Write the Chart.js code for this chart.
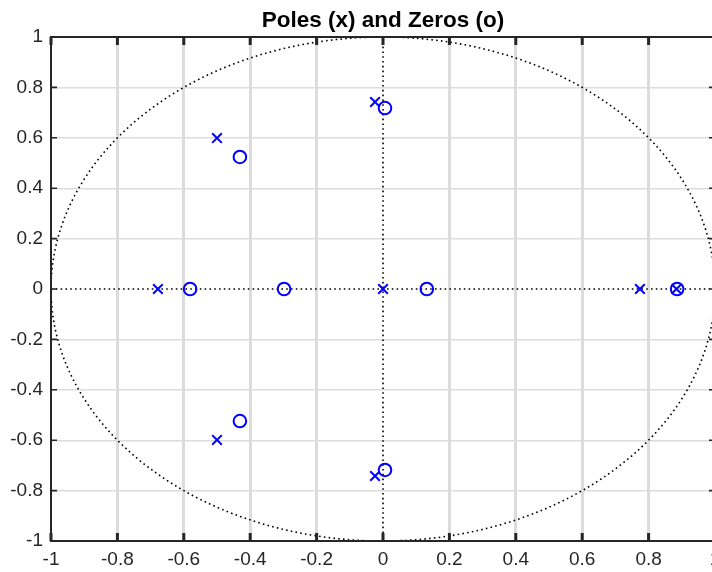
<!DOCTYPE html>
<html>
<head>
<meta charset="utf-8">
<script src="https://cdn.jsdelivr.net/npm/chart.js@4.4.1/dist/chart.umd.min.js"></script>
<style>
  html, body { margin: 0; padding: 0; overflow: hidden; background: #fff; }
  #wrap { width: 735px; height: 572px; }
</style>
</head>
<body>
<div id="wrap"><canvas id="pz" width="735" height="572"></canvas></div>
<script>
// pole / zero locations (real, imaginary)
const poleRe = [-0.678, -0.5, -0.5, -0.024, -0.024, 0, 0.774, 0.884];
const poleIm = [0, 0.599, -0.599, 0.742, -0.742, 0, 0, 0];
const zeroRe = [-0.581, -0.298, 0.132, 0.886, -0.431, -0.431, 0.006, 0.006];
const zeroIm = [0, 0, 0, 0, 0.524, -0.524, 0.718, -0.718];
const tickValues = [-1, -0.8, -0.6, -0.4, -0.2, 0, 0.2, 0.4, 0.6, 0.8, 1];
const titleText = 'Poles (x) and Zeros (o)';

const axisColor = '#262626';
const markBlue = '#0000ff';
const fontFamily = 'Arial, "Liberation Sans", sans-serif';

const toPoints = (re, im) => re.map((x, i) => ({ x: x, y: im[i] }));

// unit circle, real/imag axes, box, inward ticks and a title centred over the axes
const zplaneDecor = {
    id: 'zplaneDecor',
    beforeDatasetsDraw(chart) {
        const { ctx, chartArea: a, scales: { x, y } } = chart;
        const cx = x.getPixelForValue(0), cy = y.getPixelForValue(0);
        const rx = x.getPixelForValue(1) - cx, ry = cy - y.getPixelForValue(1);
        ctx.save();
        ctx.strokeStyle = '#000';
        ctx.lineWidth = 1.6;
        ctx.setLineDash([1.6, 3.2]);
        ctx.beginPath();
        ctx.ellipse(cx, cy, rx, ry, 0, 0, Math.PI * 2);
        ctx.stroke();
        ctx.beginPath();
        ctx.moveTo(a.left, cy); ctx.lineTo(a.right, cy);
        ctx.moveTo(cx, a.top); ctx.lineTo(cx, a.bottom);
        ctx.stroke();
        ctx.restore();
    },
    afterDatasetsDraw(chart) {
        const { ctx, chartArea: a, scales: { x, y } } = chart;
        ctx.save();
        ctx.strokeStyle = axisColor;
        ctx.lineWidth = 3;
        tickValues.forEach(v => {
            const px = x.getPixelForValue(v);
            ctx.beginPath();
            ctx.moveTo(px, a.top); ctx.lineTo(px, a.top + 8);
            ctx.moveTo(px, a.bottom); ctx.lineTo(px, a.bottom - 8);
            ctx.stroke();
        });
        ctx.lineWidth = 1.6;
        tickValues.forEach(v => {
            const py = y.getPixelForValue(v);
            ctx.beginPath();
            ctx.moveTo(a.left, py); ctx.lineTo(a.left + 6, py);
            ctx.moveTo(a.right, py); ctx.lineTo(a.right - 6, py);
            ctx.stroke();
        });
        ctx.lineWidth = 2;
        ctx.strokeRect(a.left, a.top, a.right - a.left, a.bottom - a.top);

        ctx.fillStyle = '#000';
        ctx.font = 'bold 22.5px ' + fontFamily;
        ctx.textAlign = 'center';
        ctx.textBaseline = 'alphabetic';
        ctx.fillText(titleText, (a.left + a.right) / 2, 27);
        ctx.restore();
    }
};

const gridColor = ctx => {
    const v = ctx.tick ? ctx.tick.value : null;
    if (v === null || Math.abs(v) < 1e-9 || Math.abs(Math.abs(v) - 1) < 1e-9) return 'rgba(0,0,0,0)';
    return '#dcdcdc';
};

new Chart(document.getElementById('pz').getContext('2d'), {
    type: 'scatter',
    data: {
        datasets: [
            {
                label: 'Zeros',
                data: toPoints(zeroRe, zeroIm),
                pointStyle: 'circle',
                pointRadius: 6.3,
                pointBorderWidth: 2,
                borderColor: markBlue,
                backgroundColor: 'rgba(0,0,0,0)'
            },
            {
                label: 'Poles',
                data: toPoints(poleRe, poleIm),
                pointStyle: 'crossRot',
                pointRadius: 6.8,
                pointBorderWidth: 2,
                borderColor: markBlue,
                backgroundColor: markBlue
            }
        ]
    },
    options: {
        responsive: false,
        animation: false,
        layout: { padding: { left: 0, right: 20, top: 37, bottom: 0 } },
        plugins: {
            legend: { display: false },
            tooltip: { enabled: false },
            title: { display: false }
        },
        scales: {
            x: {
                type: 'linear',
                min: -1,
                max: 1,
                afterBuildTicks: s => { s.ticks = tickValues.map(v => ({ value: v })); },
                afterFit: s => { s.height = 31; },
                ticks: {
                    color: axisColor,
                    padding: 7.5,
                    maxRotation: 0,
                    font: { family: fontFamily, size: 19 },
                    callback: v => String(Math.round(v * 10) / 10)
                },
                grid: { color: gridColor, lineWidth: 3, drawTicks: false },
                border: { display: false }
            },
            y: {
                type: 'linear',
                min: -1,
                max: 1,
                afterBuildTicks: s => { s.ticks = tickValues.map(v => ({ value: v })); },
                afterFit: s => { s.width = 51; },
                ticks: {
                    color: axisColor,
                    padding: 8,
                    font: { family: fontFamily, size: 19 },
                    callback: v => String(Math.round(v * 10) / 10)
                },
                grid: { color: gridColor, lineWidth: 1.4, drawTicks: false },
                border: { display: false }
            }
        }
    },
    plugins: [zplaneDecor]
});
</script>
</body>
</html>
